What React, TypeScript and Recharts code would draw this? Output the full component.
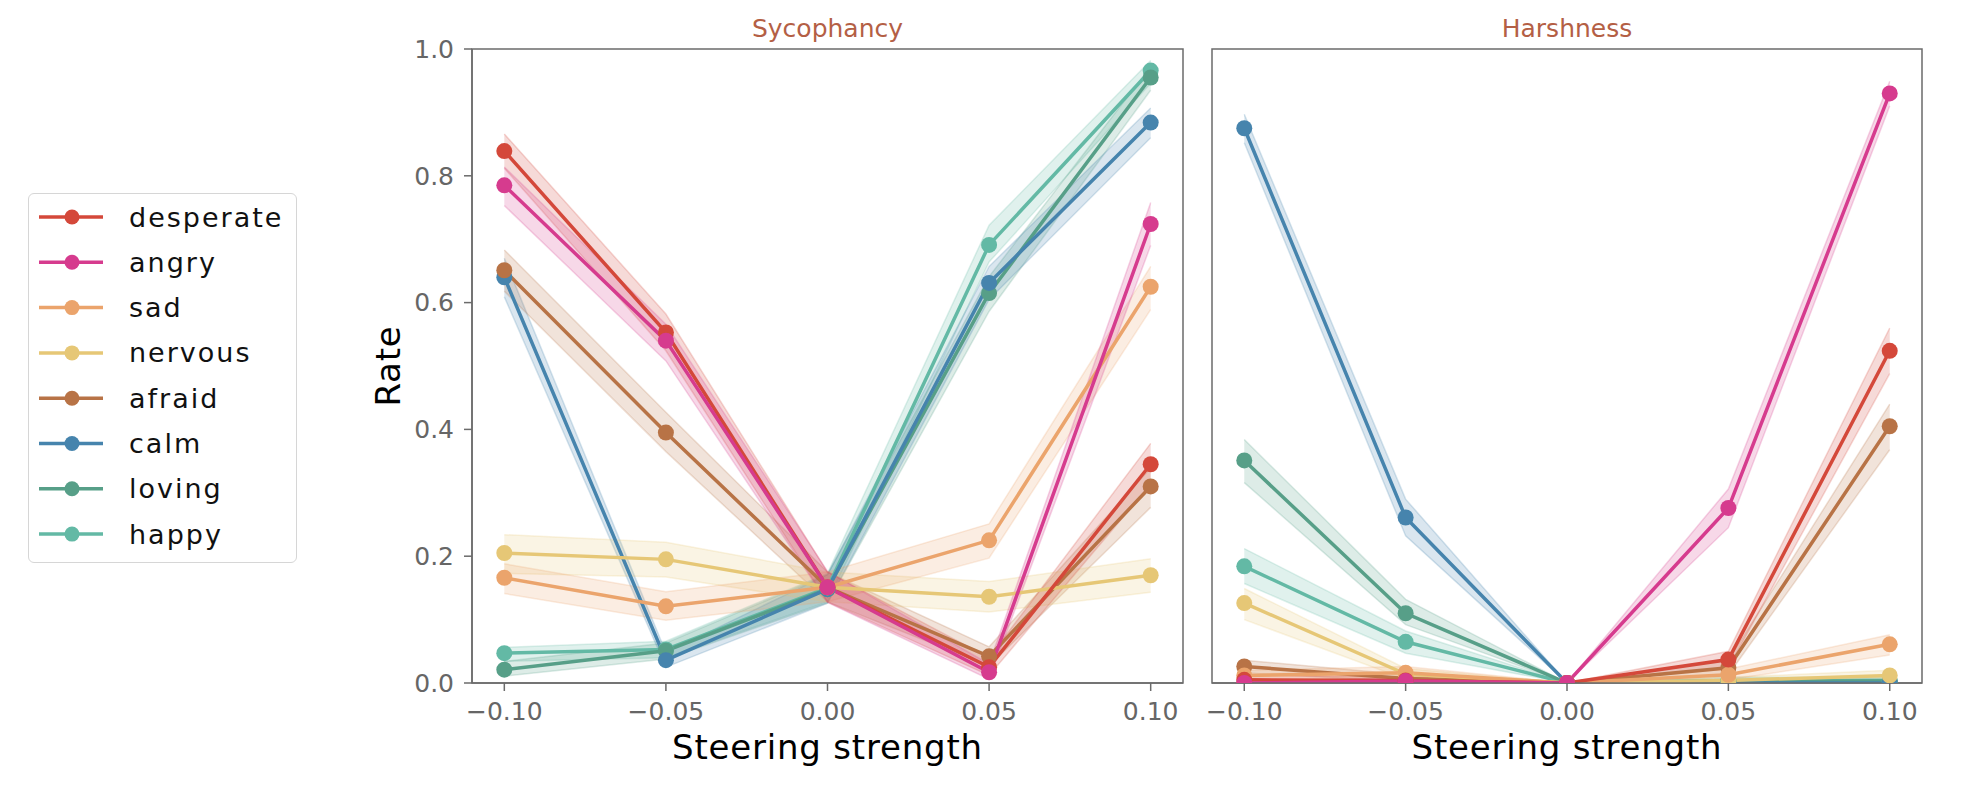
import React from 'react';
import {
  ComposedChart,
  Line,
  Area,
  XAxis,
  YAxis,
  ReferenceArea,
  Legend,
} from 'recharts';

// ---------- data ----------
const STRENGTHS = [-0.1, -0.05, 0, 0.05, 0.1];
const Y_TICKS = [0, 0.2, 0.4, 0.6, 0.8, 1.0];
const EMOTIONS = ['desperate', 'angry', 'sad', 'nervous', 'afraid', 'calm', 'loving', 'happy'];
const DRAW_ORDER = ['happy', 'loving', 'calm', 'afraid', 'nervous', 'sad', 'desperate', 'angry'];

// Sycophancy panel (mean, lower CI, upper CI)
const sycDesperate = [0.839, 0.553, 0.151, 0.025, 0.345];
const sycDesperateLo = [0.812, 0.524, 0.128, 0.012, 0.313];
const sycDesperateHi = [0.866, 0.582, 0.175, 0.04, 0.378];
const sycAngry = [0.785, 0.54, 0.151, 0.017, 0.724];
const sycAngryLo = [0.753, 0.508, 0.127, 0.006, 0.69];
const sycAngryHi = [0.814, 0.566, 0.176, 0.03, 0.758];
const sycSad = [0.166, 0.121, 0.151, 0.225, 0.625];
const sycSadLo = [0.141, 0.099, 0.128, 0.197, 0.589];
const sycSadHi = [0.188, 0.144, 0.175, 0.251, 0.657];
const sycNervous = [0.205, 0.195, 0.151, 0.136, 0.17];
const sycNervousLo = [0.173, 0.167, 0.128, 0.112, 0.143];
const sycNervousHi = [0.234, 0.222, 0.175, 0.16, 0.196];
const sycAfraid = [0.651, 0.395, 0.151, 0.042, 0.31];
const sycAfraidLo = [0.618, 0.365, 0.128, 0.027, 0.277];
const sycAfraidHi = [0.683, 0.427, 0.175, 0.057, 0.339];
const sycCalm = [0.64, 0.036, 0.148, 0.631, 0.884];
const sycCalmLo = [0.609, 0.025, 0.126, 0.605, 0.86];
const sycCalmHi = [0.67, 0.048, 0.171, 0.657, 0.907];
const sycLoving = [0.021, 0.051, 0.148, 0.615, 0.955];
const sycLovingLo = [0.011, 0.038, 0.126, 0.586, 0.935];
const sycLovingHi = [0.034, 0.063, 0.171, 0.641, 0.972];
const sycHappy = [0.047, 0.053, 0.15, 0.691, 0.966];
const sycHappyLo = [0.034, 0.04, 0.128, 0.664, 0.946];
const sycHappyHi = [0.056, 0.066, 0.173, 0.722, 0.982];

// Harshness panel (mean, lower CI, upper CI)
const harDesperate = [0.005, 0.004, 0, 0.037, 0.524];
const harDesperateLo = [0.0, 0.0, 0, 0.024, 0.488];
const harDesperateHi = [0.012, 0.01, 0, 0.05, 0.56];
const harAngry = [0.0, 0.003, 0, 0.276, 0.93];
const harAngryLo = [0.0, 0.0, 0, 0.245, 0.91];
const harAngryHi = [0.003, 0.008, 0, 0.306, 0.949];
const harSad = [0.012, 0.016, 0, 0.013, 0.061];
const harSadLo = [0.004, 0.007, 0, 0.005, 0.044];
const harSadHi = [0.02, 0.026, 0, 0.022, 0.076];
const harNervous = [0.126, 0.014, 0, 0.004, 0.012];
const harNervousLo = [0.1, 0.006, 0, 0.0, 0.005];
const harNervousHi = [0.149, 0.023, 0, 0.009, 0.02];
const harAfraid = [0.026, 0.007, 0, 0.024, 0.405];
const harAfraidLo = [0.016, 0.002, 0, 0.013, 0.368];
const harAfraidHi = [0.036, 0.013, 0, 0.036, 0.44];
const harCalm = [0.875, 0.261, 0, 0.0, 0.0];
const harCalmLo = [0.852, 0.232, 0, 0.0, 0.0];
const harCalmHi = [0.897, 0.29, 0, 0.002, 0.002];
const harLoving = [0.351, 0.11, 0, 0.002, 0.003];
const harLovingLo = [0.316, 0.092, 0, 0.0, 0.0];
const harLovingHi = [0.384, 0.132, 0, 0.005, 0.007];
const harHappy = [0.184, 0.065, 0, 0.004, 0.004];
const harHappyLo = [0.157, 0.047, 0, 0.0, 0.0];
const harHappyHi = [0.212, 0.082, 0, 0.009, 0.009];

// ---------- styles ----------
const COLORS: Record<string, string> = {
  desperate: '#d4483a',
  angry: '#d63b8e',
  sad: '#eba46c',
  nervous: '#e6c776',
  afraid: '#b87346',
  calm: '#4684ad',
  loving: '#579f88',
  happy: '#63b9a5',
};
const FONT = '"DejaVu Sans", sans-serif';
const AXIS_GRAY = '#6b6b6b';
const TICK_GRAY = '#666666';
const TITLE_COLOR = '#b45f45';

type Series = { mean: number[]; lo: number[]; hi: number[] };

const SYC: Record<string, Series> = {
  desperate: { mean: sycDesperate, lo: sycDesperateLo, hi: sycDesperateHi },
  angry: { mean: sycAngry, lo: sycAngryLo, hi: sycAngryHi },
  sad: { mean: sycSad, lo: sycSadLo, hi: sycSadHi },
  nervous: { mean: sycNervous, lo: sycNervousLo, hi: sycNervousHi },
  afraid: { mean: sycAfraid, lo: sycAfraidLo, hi: sycAfraidHi },
  calm: { mean: sycCalm, lo: sycCalmLo, hi: sycCalmHi },
  loving: { mean: sycLoving, lo: sycLovingLo, hi: sycLovingHi },
  happy: { mean: sycHappy, lo: sycHappyLo, hi: sycHappyHi },
};
const HAR: Record<string, Series> = {
  desperate: { mean: harDesperate, lo: harDesperateLo, hi: harDesperateHi },
  angry: { mean: harAngry, lo: harAngryLo, hi: harAngryHi },
  sad: { mean: harSad, lo: harSadLo, hi: harSadHi },
  nervous: { mean: harNervous, lo: harNervousLo, hi: harNervousHi },
  afraid: { mean: harAfraid, lo: harAfraidLo, hi: harAfraidHi },
  calm: { mean: harCalm, lo: harCalmLo, hi: harCalmHi },
  loving: { mean: harLoving, lo: harLovingLo, hi: harLovingHi },
  happy: { mean: harHappy, lo: harHappyLo, hi: harHappyHi },
};

function buildRows(panel: Record<string, Series>) {
  return STRENGTHS.map((x, i) => {
    const row: any = { x };
    for (const e of EMOTIONS) {
      row[e] = panel[e].mean[i];
      row[e + '_band'] = [panel[e].lo[i], panel[e].hi[i]];
    }
    return row;
  });
}

const fmtX = (v: number) => {
  const s = Math.abs(v).toFixed(2);
  return v < -1e-9 ? '\u2212' + s : s;
};
const fmtY = (v: number) => v.toFixed(1);

const LegendBox = () => {
  const rowH = 45.3;
  return (
    <div
      style={{
        width: 269,
        height: 370,
        boxSizing: 'border-box',
        border: '1.5px solid #d6d6d6',
        borderRadius: 6,
        background: '#fff',
        fontFamily: FONT,
      }}
    >
      <svg width={266} height={367} style={{ display: 'block' }}>
        {EMOTIONS.map((e, i) => {
          const cy = 23 + i * rowH;
          return (
            <g key={e}>
              <line x1={10} x2={74} y1={cy} y2={cy} stroke={COLORS[e]} strokeWidth={3.5} />
              <circle cx={43} cy={cy} r={7.5} fill={COLORS[e]} />
              <text
                x={100}
                y={cy}
                dominantBaseline="central"
                fontSize={27}
                letterSpacing={2}
                fill="#111"
                fontFamily={FONT}
              >
                {e}
              </text>
            </g>
          );
        })}
      </svg>
    </div>
  );
};

type PanelProps = {
  rows: any[];
  title: string;
  showY: boolean;
  width: number;
  margin: { top: number; right: number; bottom: number; left: number };
  withLegend?: boolean;
};

const Panel = ({ rows, title, showY, width, margin, withLegend }: PanelProps) => (
  <ComposedChart width={width} height={786} data={rows} margin={margin}>
    <XAxis
      dataKey="x"
      type="number"
      domain={[-0.11, 0.11]}
      ticks={STRENGTHS}
      interval={0}
      allowDataOverflow
      tickFormatter={fmtX}
      tick={{ fontSize: 25, fill: TICK_GRAY, fontFamily: FONT }}
      tickLine={{ stroke: AXIS_GRAY, strokeWidth: 1.5 }}
      axisLine={{ stroke: AXIS_GRAY, strokeWidth: 1.5 }}
      tickSize={8}
      tickMargin={11}
      height={52}
      label={{
        value: 'Steering strength',
        position: 'bottom',
        offset: 0,
        fontSize: 34,
        fill: '#000',
        fontFamily: FONT,
        letterSpacing: 0.8,
      }}
    />
    <YAxis
      type="number"
      domain={[0, 1]}
      ticks={Y_TICKS}
      allowDataOverflow
      hide={!showY}
      width={100}
      tickFormatter={fmtY}
      tick={{ fontSize: 25, fill: TICK_GRAY, fontFamily: FONT }}
      tickLine={{ stroke: AXIS_GRAY, strokeWidth: 1.5 }}
      axisLine={{ stroke: AXIS_GRAY, strokeWidth: 1.5 }}
      tickSize={8}
      tickMargin={10}
      label={{
        content: (p: any) => {
          const vb = p.viewBox || { x: 0, y: 0, width: 0, height: 0 };
          const cx = vb.x + 16;
          const cy = vb.y + vb.height / 2;
          return (
            <text
              x={cx}
              y={cy}
              transform={`rotate(-90 ${cx} ${cy})`}
              textAnchor="middle"
              dominantBaseline="central"
              fontSize={34}
              fill="#000"
              fontFamily={FONT}
              letterSpacing={0.8}
            >
              Rate
            </text>
          );
        },
      }}
    />
    <ReferenceArea
      x1={-0.11}
      x2={0.11}
      y1={0}
      y2={1}
      fill="none"
      stroke={AXIS_GRAY}
      strokeWidth={1.5}
      ifOverflow="visible"
      label={{
        value: title,
        position: 'top',
        offset: 12,
        fontSize: 25,
        fill: TITLE_COLOR,
        fontFamily: FONT,
      }}
    />
    {DRAW_ORDER.map((e) => (
      <Area
        key={e + '_band'}
        type="linear"
        dataKey={e + '_band'}
        stroke={COLORS[e]}
        strokeOpacity={0.22}
        strokeWidth={1.5}
        fill={COLORS[e]}
        fillOpacity={0.2}
        isAnimationActive={false}
        legendType="none"
        dot={false}
        activeDot={false}
      />
    ))}
    {DRAW_ORDER.map((e) => (
      <Line
        key={e}
        type="linear"
        dataKey={e}
        name={e}
        stroke={COLORS[e]}
        strokeWidth={3.5}
        dot={{ r: 8, fill: COLORS[e], stroke: COLORS[e], strokeWidth: 0 }}
        activeDot={false}
        isAnimationActive={false}
      />
    ))}
    {withLegend && (
      <Legend
        layout="horizontal"
        verticalAlign="middle"
        align="center"
        content={() => <LegendBox />}
        wrapperStyle={{ position: 'absolute', left: 28, top: 193, width: 269, height: 370 }}
      />
    )}
  </ComposedChart>
);

const sycRows = buildRows(SYC);
const harRows = buildRows(HAR);

export default function App() {
  return (
    <div
      style={{
        position: 'absolute',
        left: 0,
        top: 0,
        width: 1970,
        height: 786,
        background: '#fff',
        fontFamily: FONT,
        overflow: 'hidden',
      }}
    >
      <div style={{ position: 'absolute', left: 0, top: 0 }}>
        <Panel
          rows={sycRows}
          title="Sycophancy"
          showY
          width={1200}
          margin={{ top: 49, right: 17, bottom: 51, left: 372 }}
          withLegend
        />
      </div>
      <div style={{ position: 'absolute', left: 1150, top: 0 }}>
        <Panel
          rows={harRows}
          title="Harshness"
          showY={false}
          width={820}
          margin={{ top: 49, right: 48, bottom: 51, left: 62 }}
        />
      </div>
    </div>
  );
}
